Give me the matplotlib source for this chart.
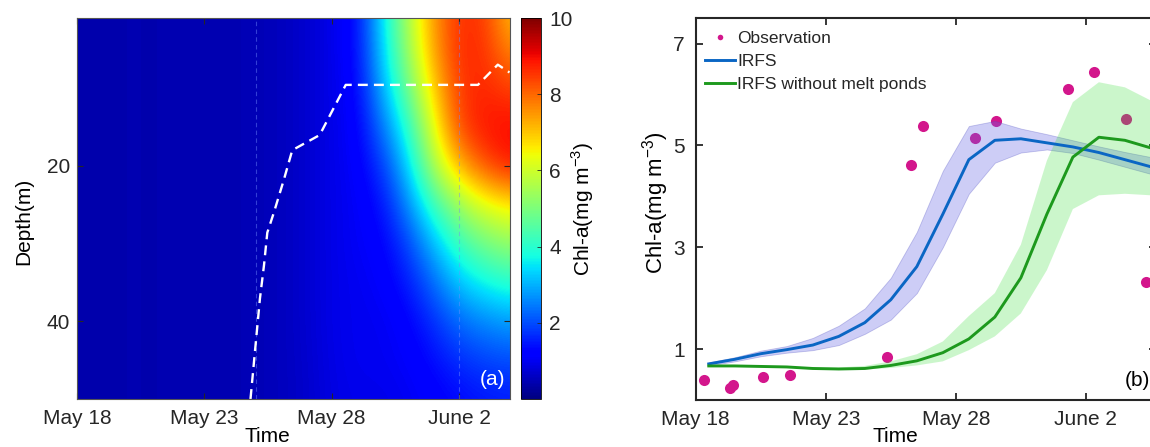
import numpy as np
import matplotlib.pyplot as plt

plt.rcParams['font.family'] = ['Liberation Sans', 'DejaVu Sans']
plt.rcParams['font.size'] = 15
plt.rcParams['text.color'] = '#262626'
plt.rcParams['xtick.color'] = '#262626'
plt.rcParams['ytick.color'] = '#262626'

# days counted from May 18
date_ticks = [0, 5, 10, 15]
date_labels = ['May 18', 'May 23', 'May 28', 'June 2']

# ---- panel (a): Chl-a depth/time section ----
heat_days = [0, 1, 2, 3, 4, 5, 6, 7, 8, 9, 10, 11, 12, 13, 14, 15, 16, 17]
heat_depths = [0, 5, 10, 15, 20, 25, 30, 35, 40, 45, 50]
chl_0 = [0.42, 0.40, 0.44, 0.42, 0.45, 0.43, 0.46, 0.48, 0.55, 0.70, 0.92, 1.30, 3.50, 5.60, 7.50, 8.60, 8.50, 7.00]
chl_5 = [0.42, 0.40, 0.44, 0.42, 0.45, 0.43, 0.46, 0.48, 0.55, 0.70, 0.92, 1.30, 3.30, 5.40, 7.40, 8.70, 8.60, 7.60]
chl_10 = [0.42, 0.40, 0.44, 0.42, 0.45, 0.43, 0.46, 0.48, 0.55, 0.70, 0.92, 1.20, 3.00, 4.80, 6.90, 8.50, 8.70, 8.40]
chl_15 = [0.42, 0.40, 0.44, 0.42, 0.45, 0.43, 0.46, 0.48, 0.55, 0.70, 0.92, 1.15, 2.40, 4.00, 6.30, 8.40, 8.90, 9.00]
chl_20 = [0.42, 0.40, 0.44, 0.42, 0.45, 0.43, 0.46, 0.48, 0.55, 0.70, 0.92, 1.10, 1.80, 3.30, 5.60, 7.20, 8.30, 8.90]
chl_25 = [0.42, 0.40, 0.44, 0.42, 0.45, 0.43, 0.46, 0.48, 0.55, 0.70, 0.92, 1.05, 1.40, 2.60, 4.20, 5.40, 6.20, 6.60]
chl_30 = [0.42, 0.40, 0.44, 0.42, 0.45, 0.43, 0.46, 0.48, 0.55, 0.70, 0.92, 1.05, 1.20, 1.90, 3.10, 4.20, 4.90, 5.30]
chl_35 = [0.42, 0.40, 0.44, 0.42, 0.45, 0.43, 0.46, 0.48, 0.55, 0.70, 0.92, 1.00, 1.10, 1.50, 2.30, 3.20, 3.70, 4.00]
chl_40 = [0.42, 0.40, 0.44, 0.42, 0.45, 0.43, 0.46, 0.48, 0.55, 0.70, 0.92, 1.00, 1.00, 1.20, 1.70, 2.30, 2.60, 2.80]
chl_45 = [0.42, 0.40, 0.44, 0.42, 0.45, 0.43, 0.46, 0.48, 0.55, 0.68, 0.90, 1.00, 1.00, 1.10, 1.35, 1.70, 1.90, 2.00]
chl_50 = [0.42, 0.40, 0.44, 0.42, 0.45, 0.43, 0.46, 0.48, 0.55, 0.66, 0.88, 0.95, 0.95, 1.00, 1.15, 1.30, 1.45, 1.50]
chl_section = np.array([chl_0, chl_5, chl_10, chl_15, chl_20, chl_25,
                        chl_30, chl_35, chl_40, chl_45, chl_50])

# mixed layer depth (white dashed)
mld_days = [6.81, 7.18, 7.34, 7.47, 7.73, 8.12, 8.45, 8.78, 9.50, 9.63, 10.55, 15.74, 16.52, 16.98]
mld_depth = [50.0, 37.1, 32.8, 28.6, 26.0, 21.8, 18.0, 17.4, 16.1, 15.4, 9.6, 9.6, 7.0, 8.0]
event_days = [7.03, 15.0]

# ---- panel (b): surface Chl-a ----
model_days = [0.5, 1.5, 2.5, 3.5, 4.5, 5.5, 6.5, 7.5, 8.5, 9.5, 10.5, 11.5, 12.5, 13.5, 14.5, 15.5, 16.5, 17.5]
irfs = [0.71, 0.80, 0.91, 0.99, 1.08, 1.25, 1.52, 1.97, 2.62, 3.65, 4.72, 5.10, 5.13, 5.05, 4.97, 4.86, 4.72, 4.58]
irfs_hi = [0.74, 0.84, 0.97, 1.06, 1.22, 1.46, 1.80, 2.40, 3.30, 4.50, 5.38, 5.48, 5.33, 5.22, 5.10, 4.98, 4.87, 4.77]
irfs_lo = [0.68, 0.76, 0.86, 0.93, 0.98, 1.08, 1.30, 1.58, 2.10, 3.00, 4.05, 4.66, 4.86, 4.92, 4.85, 4.72, 4.58, 4.44]
nopond = [0.67, 0.67, 0.66, 0.65, 0.62, 0.61, 0.62, 0.68, 0.77, 0.93, 1.20, 1.63, 2.40, 3.65, 4.77, 5.16, 5.10, 4.95]
nopond_hi = [0.68, 0.68, 0.67, 0.66, 0.64, 0.64, 0.67, 0.76, 0.90, 1.15, 1.65, 2.10, 3.05, 4.70, 5.85, 6.24, 6.14, 5.88]
nopond_lo = [0.66, 0.66, 0.65, 0.64, 0.60, 0.59, 0.60, 0.63, 0.68, 0.76, 0.98, 1.25, 1.70, 2.55, 3.75, 4.02, 4.05, 4.02]

obs_days = [0.30, 1.31, 1.42, 2.60, 3.61, 7.36, 8.29, 8.74, 10.72, 11.53, 14.30, 15.30, 16.56, 17.33]
obs_chl = [0.39, 0.23, 0.29, 0.46, 0.49, 0.85, 4.61, 5.38, 5.15, 5.48, 6.11, 6.44, 5.51, 2.32]

fig = plt.figure(figsize=(11.5, 4.47), dpi=100)

# ---------------- (a) ----------------
ax1 = fig.add_axes([0.067, 0.1074, 0.3765, 0.8523])
im = ax1.imshow(chl_section, cmap='jet', vmin=0, vmax=10, aspect='auto',
                interpolation='bicubic',
                extent=[heat_days[0] - 0.5, heat_days[-1] + 0.5,
                        heat_depths[-1] + 2.5, heat_depths[0] - 2.5])
for d in event_days:
    ax1.axvline(d, color=(0.45, 0.55, 1.0), alpha=0.45, lw=0.8, ls=(0, (4, 3)))
ax1.plot(mld_days, mld_depth, color='white', lw=1.7, dashes=(4.2, 2.6))
ax1.set_xlim(0, 17)
ax1.set_ylim(50, 1)
ax1.set_xticks(date_ticks)
ax1.set_xticklabels(date_labels)
ax1.set_yticks([20, 40])
ax1.tick_params(direction='in', length=4, width=0.8, top=True, right=True, pad=7)
ax1.tick_params(axis='y', pad=5)
for s in ax1.spines.values():
    s.set_color('#555555')
    s.set_linewidth(0.8)
ax1.set_xlabel('Time')
ax1.xaxis.label.set_va('baseline')
ax1.xaxis.set_label_coords(0.44, -0.113)
ax1.set_ylabel('Depth(m)')
ax1.yaxis.label.set_va('center')
ax1.yaxis.set_label_coords(-0.122, 0.467)
ax1.text(0.988, 0.05, '(a)', transform=ax1.transAxes, color='white',
         ha='right', va='center', fontsize=15)

cax = fig.add_axes([0.453, 0.1074, 0.0174, 0.8523])
cb = fig.colorbar(im, cax=cax, ticks=[2, 4, 6, 8, 10])
cb.outline.set_linewidth(0.6)
cax.tick_params(direction='in', length=3, width=0.6, pad=6)
cb.set_label(r'Chl-a(mg m$^{\mathregular{-3}}$)')
cax.yaxis.label.set_va('center')
cax.yaxis.set_label_coords(3.1, 0.5)

# ---------------- (b) ----------------
ax2 = fig.add_axes([0.605, 0.105, 0.4003, 0.8546])
ax2.plot(obs_days, obs_chl, ls='none', marker='o', ms=8, color='#d3168c',
         mec='none', label='Observation', zorder=1)
ax2.fill_between(model_days, irfs_lo, irfs_hi, facecolor='#6464e6', alpha=0.32,
                 edgecolor='#5050c0', lw=0.6, zorder=2)
ax2.fill_between(model_days, nopond_lo, nopond_hi, facecolor='#33dd33', alpha=0.25,
                 edgecolor='none', zorder=2)
ax2.plot(model_days, irfs, color='#0a66c4', lw=2.1, label='IRFS', zorder=3)
ax2.plot(model_days, nopond, color='#1d991d', lw=2.1,
         label='IRFS without melt ponds', zorder=3)
ax2.set_xlim(0, 17.7)
ax2.set_ylim(0, 7.5)
ax2.set_xticks(date_ticks)
ax2.set_xticklabels(date_labels)
ax2.set_yticks([1, 3, 5, 7])
ax2.tick_params(direction='in', length=5, width=1.3, top=True, right=True, pad=7)
ax2.tick_params(axis='y', pad=8)
for s in ax2.spines.values():
    s.set_color('#262626')
    s.set_linewidth(1.5)
ax2.set_xlabel('Time')
ax2.xaxis.label.set_va('baseline')
ax2.xaxis.set_label_coords(0.433, -0.11)
ax2.set_ylabel(r'Chl-a(mg m$^{\mathregular{-3}}$)', fontsize=16)
ax2.yaxis.label.set_va('center')
ax2.yaxis.set_label_coords(-0.088, 0.516)
ax2.text(0.987, 0.052, '(b)', transform=ax2.transAxes, color='black',
         ha='right', va='center', fontsize=15)

leg = ax2.legend(loc='upper left', bbox_to_anchor=(0.005, 0.984), frameon=False,
                 fontsize=12.5, handlelength=1.75, handletextpad=0.1,
                 labelspacing=0.45, borderaxespad=0.0, markerscale=0.5)

fig.savefig('out.png', dpi=100)
